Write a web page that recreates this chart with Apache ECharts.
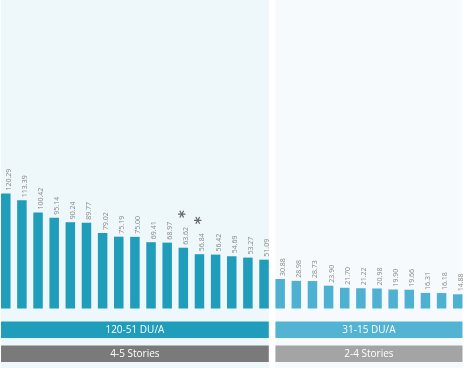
<!DOCTYPE html>
<html>
<head>
<meta charset="utf-8">
<script src="https://cdn.jsdelivr.net/npm/echarts@6/dist/echarts.min.js"></script>
<style>
html,body{margin:0;padding:0;background:#fff;overflow:hidden;}
#c{width:472px;height:368px;position:relative;left:-5px;}
</style>
</head>
<body>
<div id="c"></div>
<script>
// ---- data ----
const categories = ['b1','b2','b3','b4','b5','b6','b7','b8','b9','b10','b11','b12','b13','b14','b15','b16','b17',
                    'b18','b19','b20','b21','b22','b23','b24','b25','b26','b27','b28','b29'];
const highDensity = [120.29, 113.39, 100.42, 95.14, 90.24, 89.77, 79.02, 75.19, 75.00, 69.41, 68.97, 63.62, 56.84, 56.42, 54.69, 53.27, 51.09];
const lowDensity = [30.88, 28.98, 28.73, 23.90, 21.70, 21.22, 20.98, 19.90, 19.66, 16.31, 16.18, 14.88];
const starred = [11, 12]; // indices flagged with an asterisk
const densityLabels = ['120-51 DU/A', '31-15 DU/A'];
const storyLabels = ['4-5 Stories', '2-4 Stories'];

const values = highDensity.concat(lowDensity);
const nLeft = highDensity.length;
const barColors = ['#1f9dbb', '#4fb1d1'];
const bandColors = ['#1f9dbb', '#52b3d3'];
const storyColors = ['#7a7a7a', '#a4a4a4'];
const panelColors = ['#eef7fa', '#f6fafd'];

const chart = echarts.init(document.getElementById('c'), null, {renderer: 'canvas'});
const BW = 9.5;
chart.setOption({
  animation: false,
  backgroundColor: '#ffffff',
  grid: {left: 2.7, right: 1.2, top: 0, bottom: 59.5, containLabel: false},
  xAxis: {type: 'category', data: categories, show: false},
  yAxis: {type: 'value', min: 0, max: 323, show: false},
  series: [{
    type: 'bar',
    data: values,
    barWidth: BW,
    z: 5,
    itemStyle: {color: p => p.dataIndex < nLeft ? barColors[0] : barColors[1]},
    label: {
      show: true,
      position: 'top',
      rotate: 90,
      align: 'left',
      verticalAlign: 'middle',
      distance: 3,
      offset: [0, 3],
      fontFamily: 'Open Sans',
      fontSize: 7,
      color: '#8a8a8a',
      formatter: p => {
        const t = p.value.toFixed(2);
        return starred.includes(p.dataIndex) ? t + '{sp|}{s|*}' : t;
      },
      rich: {
        sp: {width: 9},
        s: {fontSize: 15, fontWeight: 'bold', color: '#6a6a6a', fontFamily: 'DejaVu Sans'}
      }
    }
  }]
});

function buildGraphics() {
  const half = BW / 2;
  const groups = [[0, nLeft - 1], [nLeft, values.length - 1]];
  const els = [];
  groups.forEach((g, i) => {
    const x0 = chart.convertToPixel({xAxisIndex: 0}, g[0]) - half;
    const x1 = chart.convertToPixel({xAxisIndex: 0}, g[1]) + half;
    els.push({type: 'rect', z: -10, silent: true,
      shape: {x: x0, y: 0, width: x1 - x0, height: 368},
      style: {fill: panelColors[i]}});
    els.push({type: 'rect', z: 1,
      shape: {x: x0, y: 321.5, width: x1 - x0, height: 16.5},
      style: {fill: bandColors[i]}});
    els.push({type: 'text', z: 2, x: (x0 + x1) / 2, y: 330,
      style: {text: densityLabels[i], fill: '#ffffff', font: '10px "Open Sans"', align: 'center', verticalAlign: 'middle'}});
    els.push({type: 'rect', z: 1,
      shape: {x: x0, y: 345.5, width: x1 - x0, height: 16.5},
      style: {fill: storyColors[i]}});
    els.push({type: 'text', z: 2, x: (x0 + x1) / 2, y: 354,
      style: {text: storyLabels[i], fill: '#ffffff', font: '10px "Open Sans"', align: 'center', verticalAlign: 'middle'}});
  });
  chart.setOption({graphic: {elements: els}});
}
buildGraphics();
</script>
</body>
</html>
